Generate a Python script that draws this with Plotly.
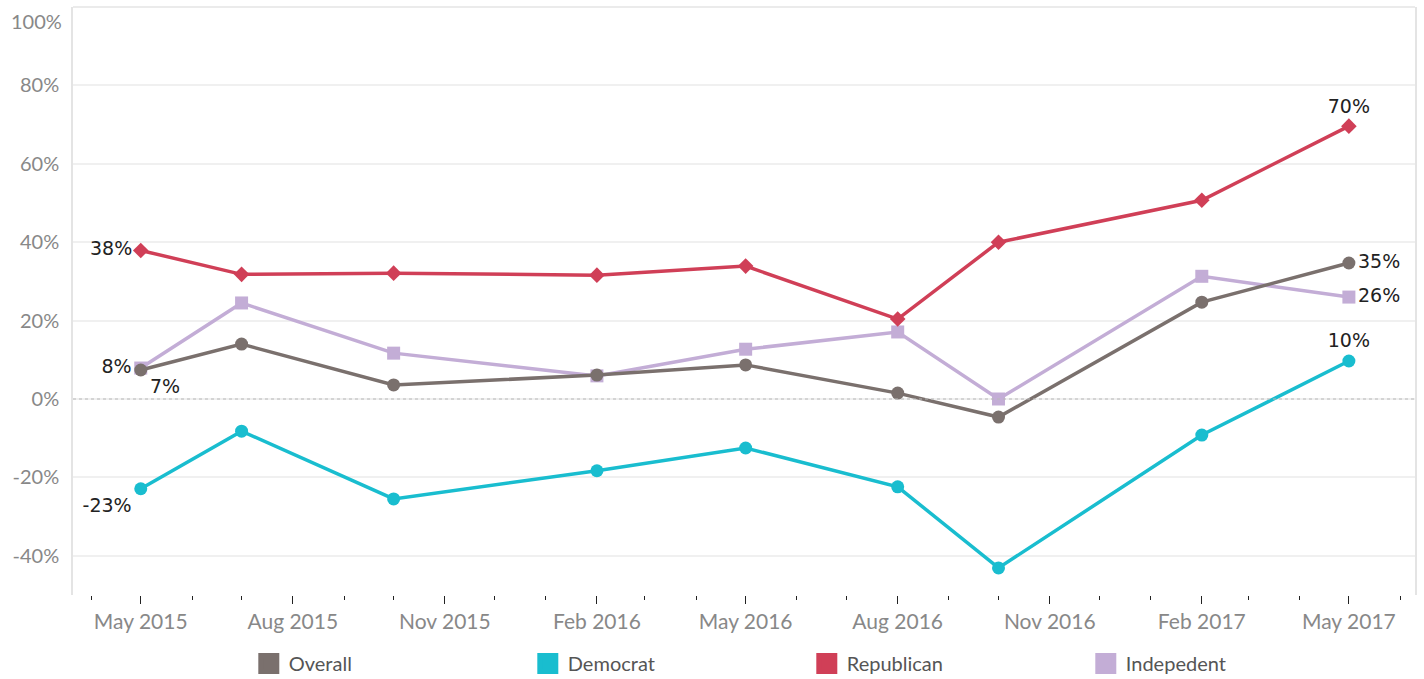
import plotly.graph_objects as go

dates = ["2015-05-01", "2015-07-01", "2015-10-01", "2016-02-01", "2016-05-01",
         "2016-08-01", "2016-10-01", "2017-02-01", "2017-05-01"]
overall = [7.4, 14.0, 3.6, 6.1, 8.7, 1.5, -4.6, 24.7, 34.7]
democrat = [-22.9, -8.2, -25.5, -18.3, -12.5, -22.4, -43.1, -9.2, 9.7]
republican = [37.9, 31.8, 32.1, 31.6, 33.9, 20.4, 40.0, 50.7, 69.6]
independent = [7.9, 24.5, 11.7, 5.9, 12.7, 17.1, 0.0, 31.3, 26.0]

series_names = ["Overall", "Democrat", "Republican", "Indepedent"]
colors = {"Overall": "#7a706d", "Democrat": "#19bdcf", "Republican": "#d03f57", "Indepedent": "#c3add6"}
symbols = {"Overall": "circle", "Democrat": "circle", "Republican": "diamond", "Indepedent": "square"}
values = {"Overall": overall, "Democrat": democrat, "Republican": republican, "Indepedent": independent}
first_pos = {"Overall": "bottom right", "Democrat": "bottom left", "Republican": "middle left", "Indepedent": "middle left"}
last_pos = {"Overall": "middle right", "Democrat": "top center", "Republican": "top center", "Indepedent": "middle right"}

y_ticks = [-40, -20, 0, 20, 40, 60, 80]
y_top = 100

fig = go.Figure()

draw_order = ["Indepedent", "Democrat", "Republican", "Overall"]
for name in draw_order:
    vals = values[name]
    texts = [""] * len(vals)
    texts[0] = f"{round(vals[0])}%"
    texts[-1] = f"{round(vals[-1])}%"
    pos = ["top center"] * len(vals)
    pos[0] = first_pos[name]
    pos[-1] = last_pos[name]
    msize = 12 if symbols[name] == "diamond" else 13
    fig.add_trace(go.Scatter(
        x=dates, y=vals, mode="lines+markers+text", name=name,
        line=dict(color=colors[name], width=3.5),
        marker=dict(symbol=symbols[name], size=msize, color=colors[name]),
        text=texts, textposition=pos,
        textfont=dict(family="DejaVu Sans", size=19, color="#222222"),
        showlegend=False, cliponaxis=False,
    ))

for name in series_names:
    fig.add_trace(go.Scatter(
        x=[None], y=[None], mode="markers", name=name,
        marker=dict(symbol="square", size=16, color=colors[name],
                    line=dict(color=colors[name], width=5)),
        showlegend=True,
    ))

fig.add_hline(y=0, line=dict(color="#b8b8b8", width=1, dash="dot"))
fig.add_shape(type="line", xref="paper", yref="paper", x0=0, x1=1, y0=1, y1=1,
              line=dict(color="#e4e4e4", width=1.5))
fig.add_annotation(x=0, xref="paper", y=y_top, yref="y", text=f"{y_top}%",
                   showarrow=False, xanchor="right", xshift=-9, yshift=-14,
                   font=dict(family="Lato", size=20, color="#888888"))

fig.update_layout(
    width=1424, height=679,
    margin=dict(l=73, r=9, t=7, b=84, autoexpand=False),
    paper_bgcolor="white", plot_bgcolor="white",
    font=dict(family="Lato", color="#888888"),
    legend=dict(orientation="h", x=0.131, xanchor="left", y=-0.1165, yanchor="middle",
                entrywidth=234, entrywidthmode="pixels",
                font=dict(family="Lato", size=20, color="#555555"),
                itemsizing="trace"),
    xaxis=dict(
        type="date", range=["2015-03-21", "2017-06-10"], automargin=False,
        tickmode="linear", tick0="2015-05-01", dtick="M3",
        tickformat="%b %Y", ticks="outside", ticklen=8, tickwidth=1.2, tickcolor="#222222",
        minor=dict(dtick="M1", tick0="2015-05-01", ticks="outside", ticklen=4, tickwidth=1.2,
                   tickcolor="#222222", showgrid=False),
        showgrid=False, zeroline=False, showline=False,
        tickfont=dict(family="Lato", size=21, color="#888888"),
    ),
    yaxis=dict(
        range=[-50, 100], tickvals=y_ticks, ticktext=[f"{v}%" for v in y_ticks],
        automargin=False,
        showgrid=True, gridcolor="#f0f0f0", gridwidth=1.5, zeroline=False,
        showline=True, linecolor="#e4e4e4", linewidth=1.5, mirror=True,
        ticks="", ticklabelstandoff=8,
        tickfont=dict(family="Lato", size=20, color="#888888"),
    ),
)

fig.write_html("out.html", config={"displayModeBar": False},
               post_script="document.body.style.margin='0';")
